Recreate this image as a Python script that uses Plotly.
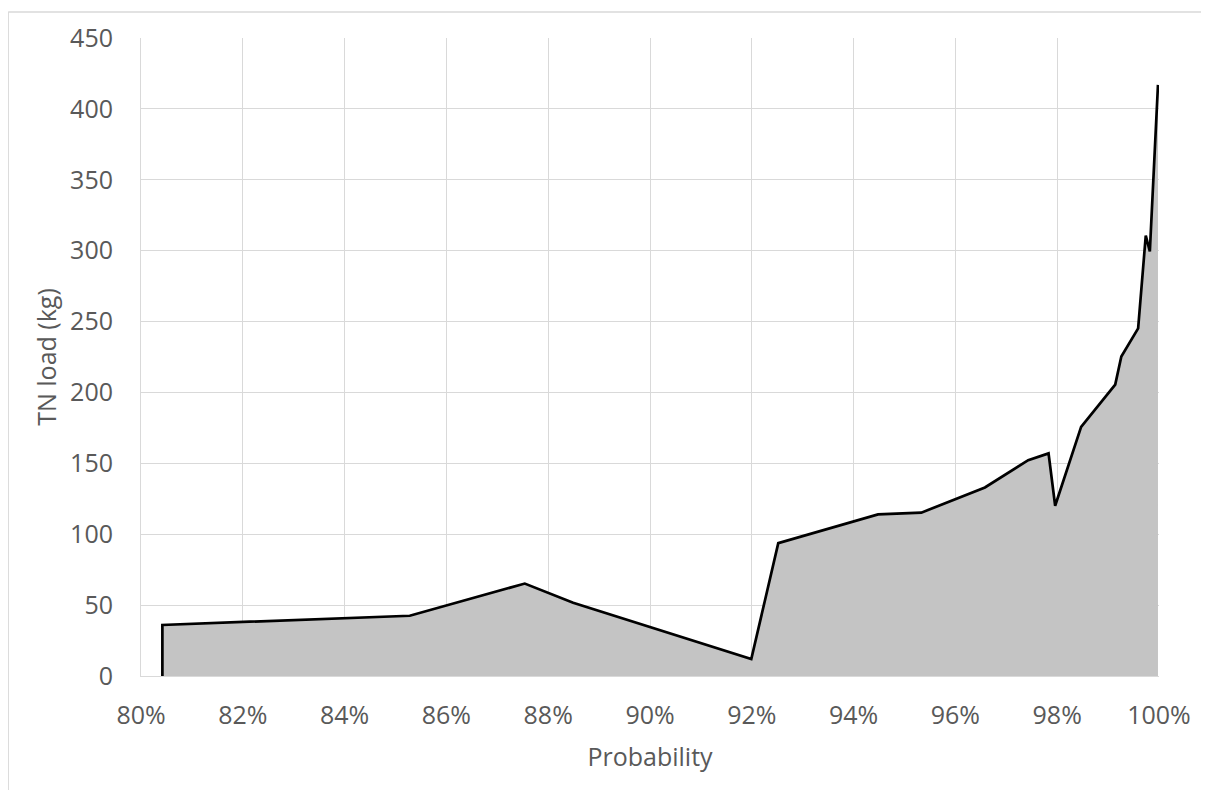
import plotly.graph_objects as go

probability = [0.8042, 0.8042, 0.8528, 0.8754, 0.8849, 0.9199, 0.9252, 0.9448, 0.9533,
               0.9658, 0.9743, 0.9783, 0.9796, 0.9847, 0.9914, 0.9926, 0.9959, 0.9974,
               0.9982, 0.9998]
tn_load = [0, 36.0, 42.5, 65.2, 51.6, 11.9, 93.7, 114.0, 115.2,
           133.0, 152.2, 157.0, 120.1, 175.7, 205.5, 225.3, 245.2, 310.7,
           299.4, 416.9]

x_ticks = [0.80, 0.82, 0.84, 0.86, 0.88, 0.90, 0.92, 0.94, 0.96, 0.98, 1.00]
y_ticks = [0, 50, 100, 150, 200, 250, 300, 350, 400, 450]

font_family = "Open Sans, Noto Sans, sans-serif"
text_color = "#595959"

fig = go.Figure()
fig.add_trace(go.Scatter(
    x=probability, y=tn_load, mode="lines", fill="tozeroy",
    fillcolor="#c4c4c4", line=dict(color="#000000", width=2.7),
    hoverinfo="x+y", showlegend=False,
))

fig.update_layout(
    width=1209, height=790,
    margin=dict(l=133, r=58, t=27, b=122),
    paper_bgcolor="white", plot_bgcolor="white",
    font=dict(family=font_family, color=text_color, size=25),
    xaxis=dict(
        range=[0.80, 1.00], tickvals=x_ticks, tickformat=".0%",
        showgrid=True, gridcolor="#d9d9d9", gridwidth=1,
        showline=True, linecolor="#d9d9d9", linewidth=1, mirror=False,
        zeroline=False, ticks="", ticklabelstandoff=17,
        title=dict(text="Probability", font=dict(size=25, color=text_color), standoff=18),
        tickfont=dict(size=25, color=text_color),
    ),
    yaxis=dict(
        range=[0, 450], tickvals=y_ticks,
        showgrid=True, gridcolor="#d9d9d9", gridwidth=1,
        showline=True, linecolor="#d9d9d9", linewidth=1,
        zeroline=False, ticks="", ticklabelstandoff=22,
        title=dict(text="TN load (kg)", font=dict(size=25, color=text_color), standoff=6),
        tickfont=dict(size=25, color=text_color),
    ),
    shapes=[
        dict(type="line", xref="paper", yref="paper", x0=-0.1305, x1=1.1, y0=1.0407, y1=1.0407,
             line=dict(color="#d9d9d9", width=1.5)),
        dict(type="line", xref="paper", yref="paper", x0=-0.1305, x1=-0.1305, y0=-0.2, y1=1.0407,
             line=dict(color="#d9d9d9", width=1.5)),
    ],
)

fig.write_html("out.html")
